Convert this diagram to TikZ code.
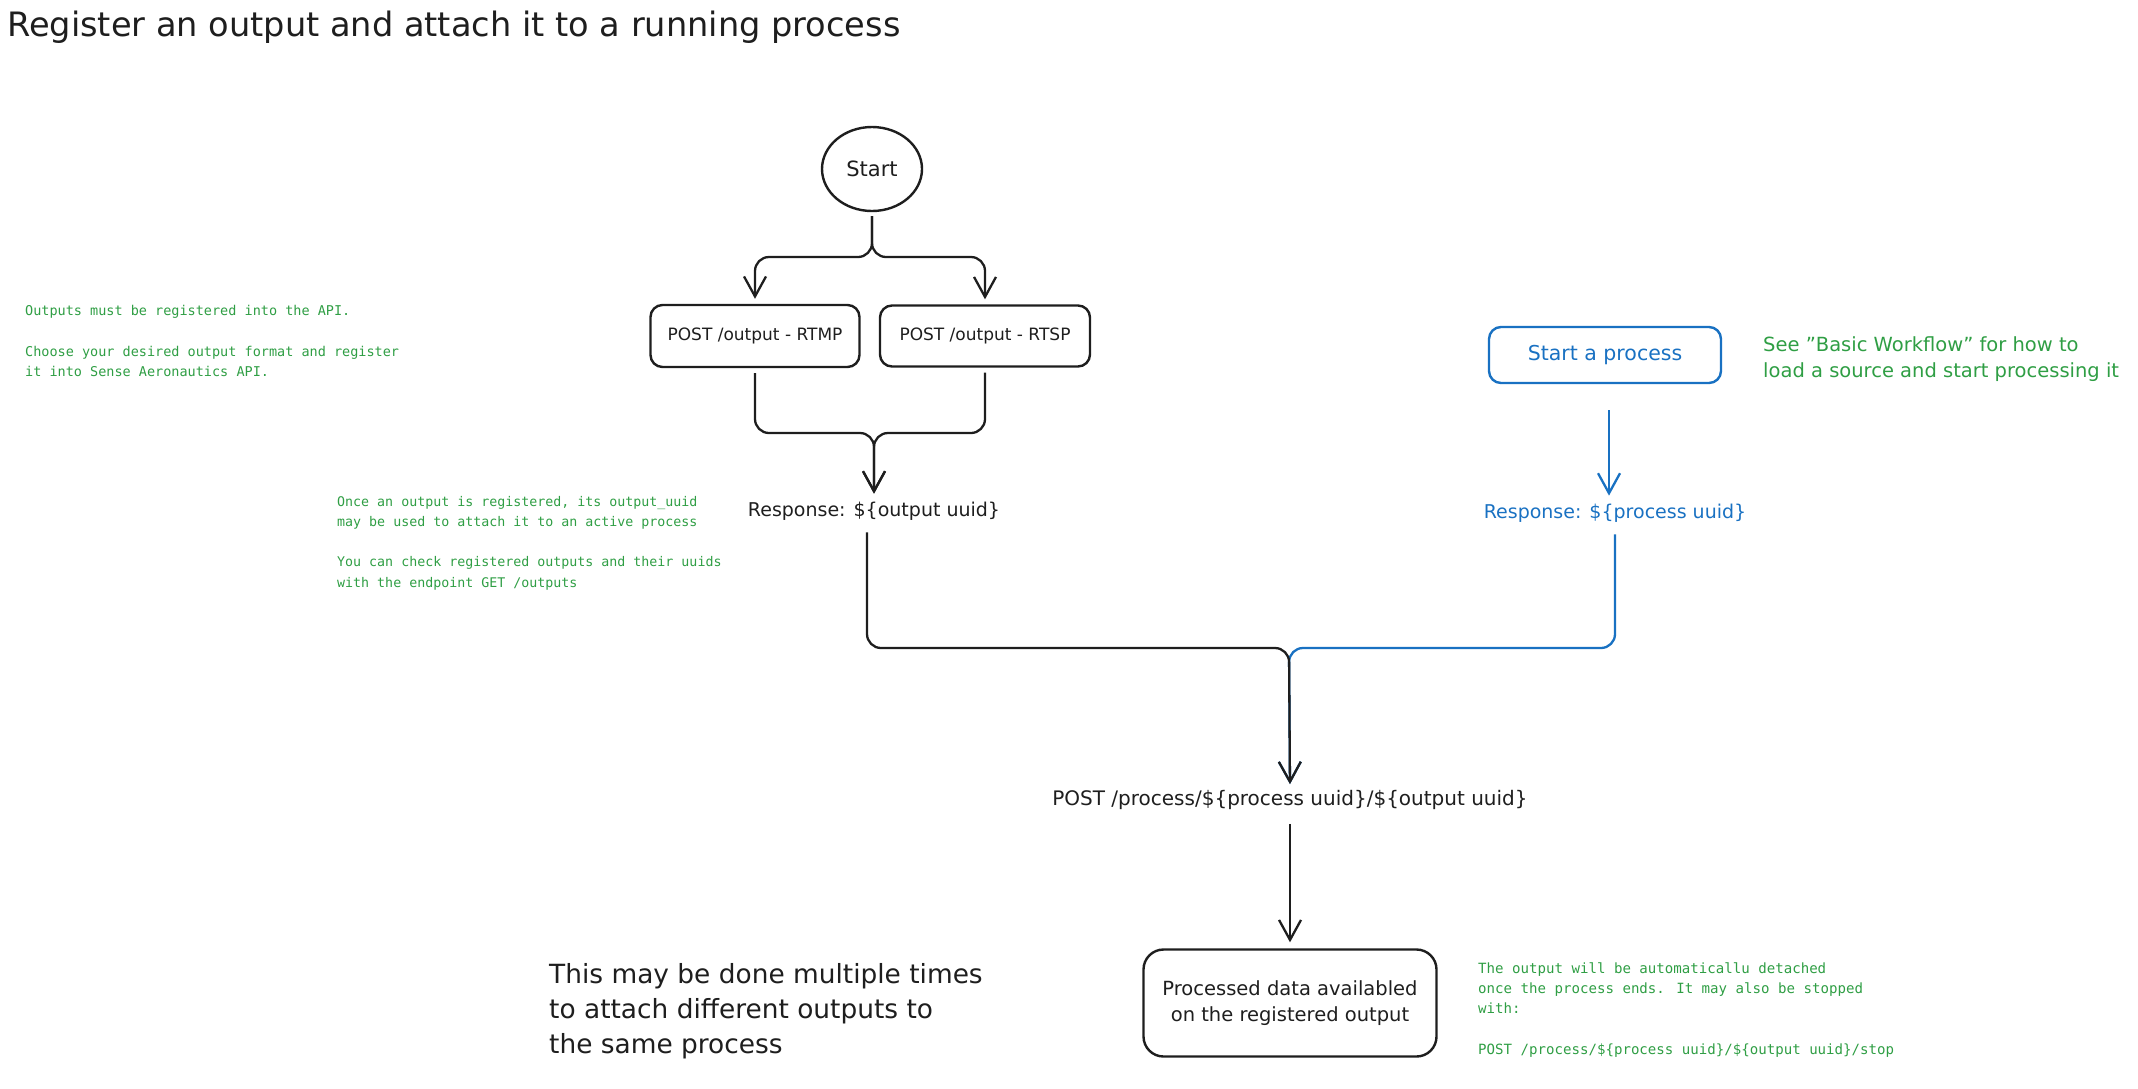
\documentclass[tikz,border=0pt]{standalone}
\usepackage{fontspec}
\setmainfont{DejaVu Sans}
\newfontfamily\notefont{DejaVu Sans Mono}
\usepackage{tikz}
\usetikzlibrary{arrows,arrows.meta,shapes}
\usetikzlibrary{positioning}
\definecolor{ink}{HTML}{1E1E1E}
\definecolor{procblue}{HTML}{1971C2}
\definecolor{notegreen}{HTML}{2F9E44}
\tikzstyle{box} = [draw=ink, rounded corners=12pt, line width=2.4pt,
    align=center, text=ink, inner sep=0pt]
\tikzstyle{blob} = [draw=ink, ellipse, line width=2.4pt, text=ink,
    minimum width=100pt, minimum height=84pt, inner sep=0pt]
\tikzstyle{label} = [text=ink, inner sep=0pt, align=left]
\tikzstyle{note} = [text=notegreen, inner sep=0pt, align=left,
    font=\notefont\fontsize{13.5}{20.3}\selectfont]
\tikzstyle{flow} = [-{Straight Barb[length=20pt,width=22pt]}, draw=ink,
    line width=2.3pt, rounded corners=14pt]

\begin{document}
\begin{tikzpicture}[x=1pt, y=-1pt]
  \useasboundingbox (0,0) rectangle (2138,1088);
  % Title
  \node [label, anchor=west, font=\fontsize{33.6}{40}\selectfont] (title)
    at (7,27) {Register an output and attach it to a running process};

  % Output side
  \node [blob, font=\fontsize{21}{24}\selectfont] (start) at (872,169) {Start};
  \node [box, minimum width=209pt, minimum height=62pt,
    font=\fontsize{17}{20}\selectfont] (rtmp) at (755,336)
    {POST /output - RTMP};
  \node [box, minimum width=210pt, minimum height=61pt,
    font=\fontsize{17}{20}\selectfont, right of=rtmp, node distance=230pt]
    (rtsp) {POST /output - RTSP};
  \node [label, font=\fontsize{19}{23}\selectfont] (resp1) at (874,511)
    {Response: \$\{output uuid\}};

  % Process side
  \node [box, draw=procblue, text=procblue, minimum width=232pt,
    minimum height=56pt, font=\fontsize{20.5}{24}\selectfont] (task)
    at (1605,355) {Start a process};
  \node [label, text=procblue, font=\fontsize{19}{23}\selectfont] (resp2)
    at (1615,513) {Response: \$\{process uuid\}};

  % Attach
  \node [label, font=\fontsize{20}{24}\selectfont] (post) at (1290,800)
    {POST /process/\$\{process uuid\}/\$\{output uuid\}};
  \node [box, rounded corners=20pt, minimum width=293pt, minimum height=107pt,
    font=\fontsize{19.5}{26}\selectfont, below of=post, node distance=203pt]
    (done) {Processed data availabled\\on the registered output};

  % Notes
  \node [note, anchor=west] (regnote) at (25,341)
    {Outputs must be registered into the API.\\[20.3pt]
     Choose your desired output format and register\\
     it into Sense Aeronautics API.};
  \node [note, anchor=west, font=\notefont\fontsize{13.3}{20.3}\selectfont]
    (uuidnote) at (337,543)
    {Once an output is registered, its output\_uuid\\
     may be used to attach it to an active process\\[20.3pt]
     You can check registered outputs and their uuids\\
     with the endpoint GET /outputs};
  \node [note, anchor=west, font=\fontsize{19.5}{26}\selectfont] (worknote)
    at (1763,359)
    {See "Basic Workflow" for how to\\load a source and start processing it};
  \node [note, anchor=west, font=\notefont\fontsize{14.1}{20.3}\selectfont]
    (stopnote) at (1478,1010)
    {The output will be automaticallu detached\\
     once the process ends. It may also be stopped\\
     with:\\[20.3pt]
     POST /process/\$\{process uuid\}/\$\{output uuid\}/stop};
  \node [label, anchor=west, font=\fontsize{26.4}{35}\selectfont] (repeat)
    at (549,1011)
    {This may be done multiple times\\to attach different outputs to\\the same process};

  % Connectors
  \coordinate (split) at (872,257);
  \coordinate (join1) at (874,433);
  \coordinate (join2) at (1289,648);
  \draw [flow, shorten >=5pt] ([yshift=-4pt]start.south) -- (split) -| (rtmp.north);
  \draw [flow, shorten >=5pt] ([yshift=-4pt]start.south) -- (split) -| (rtsp.north);
  \draw [flow, shorten >=8pt] ([yshift=-5pt]rtmp.south) |- (join1) -- (resp1.north);
  \draw [flow, shorten >=8pt] ([yshift=-5pt]rtsp.south) |- (join1) -- (resp1.north);
  \draw [flow, draw=procblue, shorten <=26pt, shorten >=8pt] ([xshift=4pt]task.south) -- ([xshift=4pt]task.south |- resp2.north);
  \draw [flow, draw=procblue, shorten >=6pt] ([yshift=-12pt]resp2.south) |- (join2) -- (post.north);
  \draw [flow, shorten >=6pt] ([xshift=-7pt,yshift=-12pt]resp1.south) |- (join2) -- (post.north);
  \draw [flow, shorten <=14pt, shorten >=6pt] (post.south) -- (done.north);
\end{tikzpicture}
\end{document}
